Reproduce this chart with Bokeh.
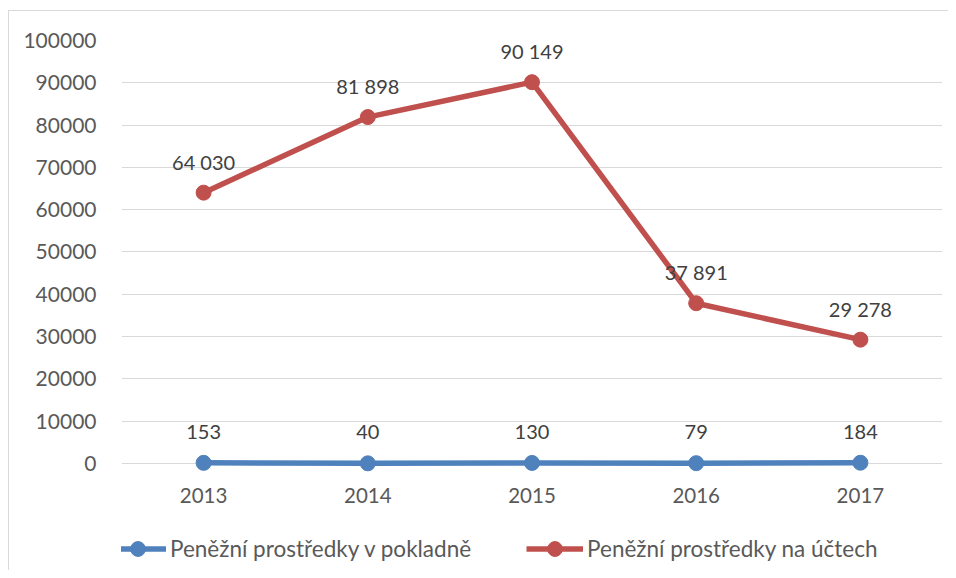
from bokeh.plotting import figure
from bokeh.models import ColumnDataSource, LabelSet, Legend, FactorRange, FixedTicker, NumeralTickFormatter
from bokeh.core.properties import value
from bokeh.embed import file_html
from bokeh.resources import INLINE

years = ["2013", "2014", "2015", "2016", "2017"]
pokladna = [153, 40, 130, 79, 184]
ucty = [64030, 81898, 90149, 37891, 29278]
y_ticks = [0, 10000, 20000, 30000, 40000, 50000, 60000, 70000, 80000, 90000, 100000]
name_pokladna = "Peněžní prostředky v pokladně"
name_ucty = "Peněžní prostředky na účtech"

BLUE = "#4F81BD"
RED = "#C0504D"
TXT = "#595959"
FONT = "Lato"

def fmt(v):
    return f"{v:,}".replace(",", " ")

src_p = ColumnDataSource(dict(x=years, y=pokladna, lab=[fmt(v) for v in pokladna]))
src_u = ColumnDataSource(dict(x=years, y=ucty, lab=[fmt(v) for v in ucty]))
src_x = ColumnDataSource(dict(x=years, y=[0] * len(years)))

# frame: 526 px tall, value axis 0..100000 occupies the top 423 px
p = figure(width=940, height=560, x_range=FactorRange(*years, range_padding=0),
           y_range=(-24350, 100000), output_backend="svg", toolbar_location=None,
           x_axis_location=None,
           min_border_left=112, min_border_right=7, min_border_top=29, min_border_bottom=5)
p.styles = {"margin-left": "8px", "margin-top": "10px",
            "border-top": "1px solid #D9D9D9", "border-left": "1px solid #D9D9D9"}
p.outline_line_color = None
p.background_fill_color = "white"
p.border_fill_color = "white"

p.xgrid.grid_line_color = None
p.ygrid.grid_line_color = "#D9D9D9"
p.ygrid.grid_line_width = 1
p.yaxis.ticker = FixedTicker(ticks=y_ticks)
p.yaxis.formatter = NumeralTickFormatter(format="0")
ax = p.yaxis[0]
ax.axis_line_color = None
ax.major_tick_line_color = None
ax.minor_tick_line_color = None
ax.major_label_text_font = FONT
ax.major_label_text_font_size = "21px"
ax.major_label_text_color = TXT
ax.major_label_standoff = 19

lp = p.line("x", "y", source=src_p, line_color=BLUE, line_width=5.5)
sp = p.scatter("x", "y", source=src_p, size=15, fill_color=BLUE, line_color=BLUE)
lu = p.line("x", "y", source=src_u, line_color=RED, line_width=5.5)
su = p.scatter("x", "y", source=src_u, size=15, fill_color=RED, line_color=RED)

for s in (src_p, src_u):
    p.add_layout(LabelSet(x="x", y="y", text="lab", source=s, text_align="center",
                          text_baseline="middle", y_offset=31, text_font=value(FONT),
                          text_font_size="20px", text_color="#404040"))

# category labels under the zero line
p.add_layout(LabelSet(x="x", y="y", text="x", source=src_x, text_align="center",
                      text_baseline="middle", y_offset=-32, text_font=value(FONT),
                      text_font_size="20.5px", text_color=TXT))

legend = Legend(items=[(name_pokladna, [lp, sp]), (name_ucty, [lu, su])],
                orientation="horizontal", location=(-12, -1),
                label_text_font=FONT, label_text_font_size="22.5px", label_text_color=TXT,
                glyph_width=57, glyph_height=37, spacing=55, label_standoff=4,
                border_line_color=None, background_fill_alpha=0, padding=4, margin=0)
p.add_layout(legend, "center")

open("out.html", "w").write(file_html(p, INLINE))
